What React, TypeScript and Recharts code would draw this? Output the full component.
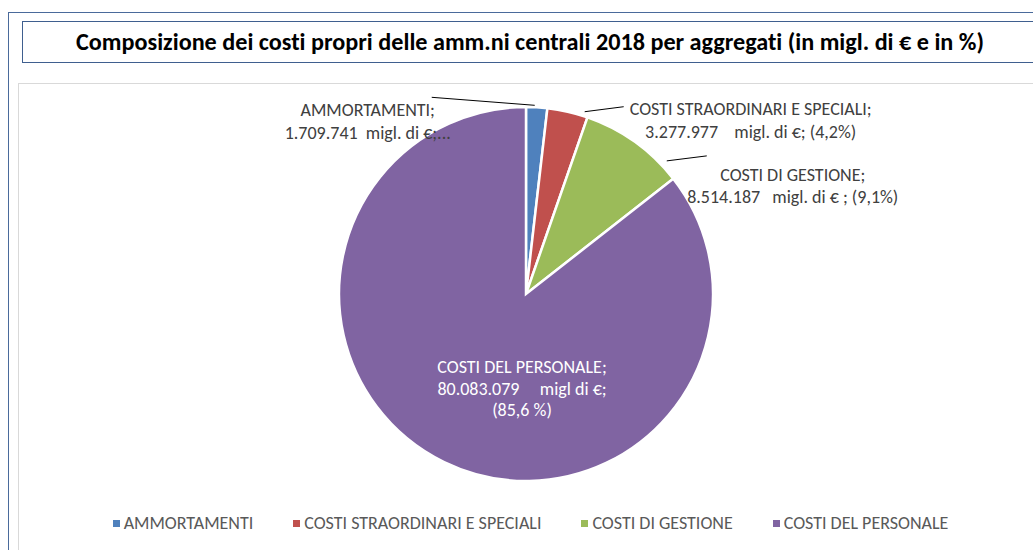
import React from "react";
import { PieChart, Pie, Cell, Legend } from "recharts";

const categories = [
  "AMMORTAMENTI",
  "COSTI STRAORDINARI E SPECIALI",
  "COSTI DI GESTIONE",
  "COSTI DEL PERSONALE",
];
const values = [1709741, 3277977, 8514187, 80083079];
const labelTexts = [
  ["AMMORTAMENTI;", "1.709.741  migl. di €;..."],
  ["COSTI STRAORDINARI E SPECIALI;", "3.277.977    migl. di €; (4,2%)"],
  ["COSTI DI GESTIONE;", "8.514.187   migl. di € ; (9,1%)"],
  ["COSTI DEL PERSONALE;", "80.083.079     migl di €;", "(85,6 %)"],
];
const colors = ["#4F81BD", "#C0504D", "#9BBB59", "#8064A2"];
const title =
  "Composizione dei costi propri delle amm.ni centrali 2018 per aggregati (in migl. di € e in %)";

const data = categories.map((name, i) => ({ name, value: values[i] }));

const FONT = "Carlito, 'Liberation Sans Narrow', 'Open Sans', sans-serif";
const RAD = Math.PI / 180;

// label placement relative to the slice's outer mid point (inside label: relative to centre)
const labelLayout = [
  { dx: -169, dy: 9, gap: 23, line: [-2, -2, -105, -10], inside: false },
  { dx: 183, dy: 3, gap: 23, line: [17, 0, 56, -5], inside: false },
  { dx: 158, dy: 39, gap: 22, line: [32, 19, 72, 14], inside: false },
  { dx: -4, dy: 79, gap: 21.5, line: null, inside: true },
];

const renderLabel = (props: any) => {
  const { cx, cy, midAngle, outerRadius, index } = props;
  const cfg = labelLayout[index];
  const ax = cx + outerRadius * Math.cos(-midAngle * RAD);
  const ay = cy + outerRadius * Math.sin(-midAngle * RAD);
  const bx = cfg.inside ? cx : ax;
  const by = cfg.inside ? cy : ay;
  const lines = labelTexts[index];
  return (
    <g key={`lbl-${index}`}>
      {cfg.line && (
        <line
          x1={ax + cfg.line[0]}
          y1={ay + cfg.line[1]}
          x2={ax + cfg.line[2]}
          y2={ay + cfg.line[3]}
          stroke="#000"
          strokeWidth={1}
        />
      )}
      {lines.map((t, j) => (
        <text
          key={j}
          x={bx + cfg.dx}
          y={by + cfg.dy + j * cfg.gap}
          textAnchor="middle"
          fontFamily={FONT}
          fontSize={18}
          fill={cfg.inside ? "#ffffff" : "#404040"}
          style={{ whiteSpace: "pre", fontVariantLigatures: "none" }}
        >
          {t}
        </text>
      ))}
    </g>
  );
};

const renderLegend = () => (
  <div
    style={{
      display: "flex",
      justifyContent: "center",
      gap: 40,
      fontFamily: FONT,
      fontSize: 18,
      lineHeight: "22px",
      color: "#595959",
      paddingLeft: 28,
      fontVariantLigatures: "none",
    }}
  >
    {categories.map((c, i) => (
      <div key={c} style={{ display: "flex", alignItems: "center", gap: 4 }}>
        <span
          style={{ width: 7, height: 7, background: colors[i], display: "inline-block" }}
        />
        <span>{c}</span>
      </div>
    ))}
  </div>
);

export default function App() {
  return (
    <div
      style={{
        position: "absolute",
        left: 0,
        top: 0,
        width: 1033,
        height: 550,
        background: "#fff",
        overflow: "hidden",
      }}
    >
      {/* outer frame */}
      <div
        style={{
          position: "absolute",
          left: 8,
          top: 12,
          width: 1100,
          height: 600,
          border: "1px solid #4A6A9B",
        }}
      />
      {/* title box */}
      <div
        style={{
          position: "absolute",
          left: 22,
          top: 21,
          width: 1100,
          height: 40,
          border: "1px solid #3F5F8F",
        }}
      />
      {/* plot area */}
      <div
        style={{
          position: "absolute",
          left: 18,
          top: 83,
          width: 1100,
          height: 600,
          border: "1px solid #D9D9D9",
        }}
      />
      <svg
        width={1033}
        height={80}
        style={{ position: "absolute", left: 0, top: 0 }}
      >
        <text
          x={530}
          y={50}
          textAnchor="middle"
          fontFamily={FONT}
          fontWeight="bold"
          fontSize={24.2}
          fill="#000"
          style={{ fontVariantLigatures: "none" }}
        >
          {title}
        </text>
      </svg>
      <div style={{ position: "absolute", left: 0, top: 0 }}>
        <PieChart
          width={1033}
          height={550}
          margin={{ top: 0, right: 0, bottom: 0, left: 0 }}
        >
          <Pie
            data={data}
            dataKey="value"
            nameKey="name"
            cx={526}
            cy={294}
            outerRadius={187}
            startAngle={90}
            endAngle={-270}
            stroke="#ffffff"
            strokeWidth={2.5}
            label={renderLabel}
            labelLine={false}
            isAnimationActive={false}
          >
            {data.map((d, i) => (
              <Cell key={d.name} fill={colors[i]} />
            ))}
          </Pie>
          <Legend
            content={renderLegend}
            wrapperStyle={{ top: 512, left: 0, width: 1033 }}
          />
        </PieChart>
      </div>
    </div>
  );
}
